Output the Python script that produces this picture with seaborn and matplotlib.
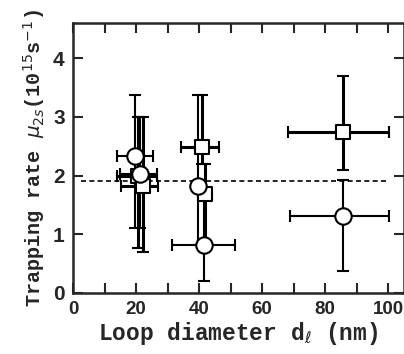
import numpy as np
import pandas as pd
import matplotlib
matplotlib.use("Agg")
import matplotlib.pyplot as plt
import seaborn as sns

# circles
circ_x = [19.7, 21.3, 39.8, 41.5, 85.7]
circ_y = [2.33, 2.03, 1.82, 0.82, 1.32]
circ_xlo = [5.9, 6.5, 2.0, 10.0, 17.0]
circ_xhi = [5.8, 5.5, 1.0, 10.0, 14.5]
circ_ylo = [1.23, 0.93, 1.0, 0.62, 0.94]
circ_yhi = [1.04, 0.97, 1.55, 0.9, 0.61]

# squares
sq_x = [20.5, 22.2, 40.8, 42.0, 85.8]
sq_y = [2.0, 1.82, 2.48, 1.68, 2.75]
sq_xlo = [6.5, 7.0, 6.5, 1.0, 17.5]
sq_xhi = [6.2, 4.8, 5.5, 1.0, 14.5]
sq_ylo = [1.23, 1.12, 0.28, 0.93, 0.65]
sq_yhi = [1.0, 1.18, 0.89, 0.52, 0.94]

mean_rate = 1.9

xticks = np.arange(0, 101, 20)
yticks = np.arange(0, 5, 1)

sns.set_style("ticks")
plt.rcParams['font.family'] = ['Liberation Sans', 'DejaVu Sans']

fig = plt.figure(figsize=(4.04, 3.54), dpi=100)
ax = fig.add_axes([73/404, 61/354, 331/404, 270/354])

ax.plot([2.5, 100], [mean_rate, mean_rate], ls=(0, (3, 2)), color='black', lw=1.2, zorder=1)

ax.errorbar(sq_x, sq_y, xerr=[sq_xlo, sq_xhi], yerr=[sq_ylo, sq_yhi], fmt='none',
            ecolor='black', elinewidth=2.2, capsize=4.5, capthick=1.5, zorder=2)
ax.errorbar(circ_x, circ_y, xerr=[circ_xlo, circ_xhi], yerr=[circ_ylo, circ_yhi], fmt='none',
            ecolor='black', elinewidth=1.5, capsize=4.5, capthick=1.5, zorder=2)

sns.scatterplot(x=sq_x, y=sq_y, marker='s', s=110, facecolor='white', edgecolor='black',
                linewidth=1.5, ax=ax, zorder=3)
sns.scatterplot(x=circ_x, y=circ_y, marker='o', s=140, facecolor='white', edgecolor='black',
                linewidth=1.5, ax=ax, zorder=4)

ax.set_xlim(0, 105)
ax.set_ylim(0, 4.6)
ax.set_xticks(xticks)
ax.set_xticks(np.arange(0, 101, 10), minor=True)
ax.set_yticks(yticks)
ax.tick_params(which='both', direction='in', top=True, right=True, width=1.5)
ax.tick_params(which='major', length=7, labelsize=15, pad=6)
ax.tick_params(axis='x', which='major', labelsize=13.5)
ax.tick_params(which='minor', length=7)
for lab in ax.get_xticklabels() + ax.get_yticklabels():
    lab.set_fontweight('bold')
for s in ax.spines.values():
    s.set_linewidth(1.8)

mono = ['Liberation Mono', 'DejaVu Sans Mono']
ax.set_xlabel(r'Loop diameter d$_\ell$ (nm)', family=mono, fontsize=16.5, fontweight='bold', labelpad=1)
ax.set_ylabel(r'Trapping rate $\mu_{2s}$(10$^{15}$s$^{-1}$)', family=mono, fontsize=14.5,
              fontweight='bold', labelpad=4)

fig.savefig('out.png', dpi=100)
